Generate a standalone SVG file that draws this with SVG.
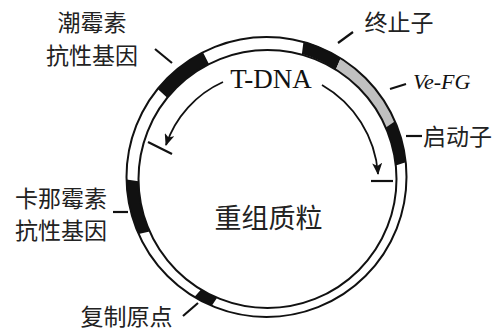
<svg xmlns="http://www.w3.org/2000/svg" width="499" height="331" viewBox="0 0 499 331">
<style>
.cjk{font-family:"Noto Sans CJK SC","Noto Sans CJK TC",sans-serif;font-size:23px;fill:#222}
.ring{fill:none;stroke:#111;stroke-width:2}
.seg{fill:#111;stroke:none}
.gray{fill:#c0c0c0;stroke:none}
.tick{stroke:#111;stroke-width:2.2;fill:none}
.arc{stroke:#111;stroke-width:1.8;fill:none;marker-end:url(#ah)}
</style>
<defs>
<marker id="ah" viewBox="0 0 12 10" refX="11" refY="5" markerWidth="12" markerHeight="10" markerUnits="userSpaceOnUse" orient="auto">
<path d="M0,0 L12,5 L0,10 L3,5 Z" fill="#111"/>
</marker>
</defs>
<rect width="499" height="331" fill="#fff"/>
<g id="plasmid">
<path class="seg" d="M202.94,52.26 A140,140 0 0,0 157.70,88.90 L167.25,97.82 A129,129 0 0,1 208.93,64.06 Z"/>
<path class="seg" d="M340.69,58.28 A140,140 0 0,0 303.5,41.6 L301.9,54.1 A129,129 0 0,1 335.86,69.61 Z"/>
<path class="gray" d="M394.89,121.18 A140,140 0 0,0 340.69,58.28 L335.86,69.61 A129,129 0 0,1 385.81,127.57 Z"/>
<path class="seg" d="M405.73,162.37 A140,140 0 0,0 394.89,121.18 L385.81,127.57 A129,129 0 0,1 395.79,165.52 Z"/>
<path class="seg" d="M126.52,179.44 A140,140 0 0,0 138.61,233.94 L149.66,231.46 A129,129 0 0,1 138.52,181.25 Z"/>
<path class="seg" d="M194.40,297.0 A140,140 0 0,0 211.80,305.87 L217.10,297.74 A129,129 0 0,1 201.06,289.58 Z"/>
<circle class="ring" cx="266.5" cy="177" r="140"/>
<circle class="ring" cx="267.5" cy="179" r="129"/>
<text x="268.5" y="228" text-anchor="middle" class="cjk" style="font-size:27px">重组质粒</text>
</g>
<g id="tdna">
<text x="271" y="88" text-anchor="middle" font-family="Liberation Serif, serif" font-size="27" fill="#111">T-DNA</text>
</g>
<g id="connectors">
<path class="arc" d="M223,82 A106,106 0 0,0 166,145"/>
<path class="arc" d="M322,85 A112,112 0 0,1 378,174"/>
<line class="tick" x1="148" y1="142" x2="172" y2="154"/>
<line class="tick" x1="371" y1="181" x2="393" y2="181"/>
<line class="tick" x1="155" y1="49" x2="172" y2="63"/>
<line class="tick" x1="338" y1="43" x2="353" y2="32"/>
<line class="tick" x1="390" y1="89" x2="406" y2="84"/>
<line class="tick" x1="406" y1="136" x2="422" y2="136"/>
<line class="tick" x1="113" y1="212" x2="128" y2="212"/>
<line class="tick" x1="183" y1="316" x2="198" y2="303"/>
</g>
<g id="hyg">
<text x="92" y="31" text-anchor="middle" class="cjk">潮霉素</text>
<text x="92" y="64" text-anchor="middle" class="cjk">抗性基因</text>
</g>
<g id="term">
<text x="399" y="31" text-anchor="middle" class="cjk">终止子</text>
</g>
<g id="vefg">
<text x="413" y="89" font-family="Liberation Serif, serif" font-style="italic" font-size="22" fill="#111">Ve-FG</text>
</g>
<g id="prom">
<text x="457.5" y="145" text-anchor="middle" class="cjk">启动子</text>
</g>
<g id="kan">
<text x="61" y="207" text-anchor="middle" class="cjk">卡那霉素</text>
<text x="61" y="239" text-anchor="middle" class="cjk">抗性基因</text>
</g>
<g id="ori">
<text x="126.5" y="325" text-anchor="middle" class="cjk">复制原点</text>
</g>
</svg>
